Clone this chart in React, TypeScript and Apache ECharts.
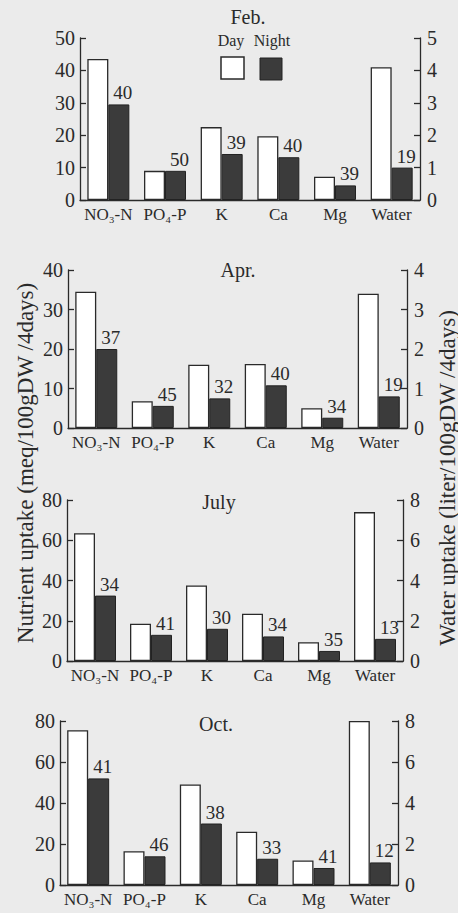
import React, { useEffect, useRef } from "react";
import * as echarts from "echarts";

// ---- data ----
const categories = ["NO₃-N", "PO₄-P", "K", "Ca", "Mg", "Water"];
const monthTitles = ["Feb.", "Apr.", "July", "Oct."];

// nutrient uptake (meq/100gDW/4days): NO3-N, PO4-P, K, Ca, Mg
const febDay = [43.5, 9, 22.5, 19.7, 7.2];
const febNight = [29.5, 9, 14.2, 13.2, 4.5];
const aprDay = [34.5, 6.8, 16, 16.2, 5];
const aprNight = [20, 5.6, 7.5, 10.8, 2.6];
const julDay = [63.5, 18.5, 37.5, 23.5, 9.3];
const julNight = [32.5, 13, 16, 12.2, 5];
const octDay = [75.5, 16.5, 49, 26, 12];
const octNight = [52, 14, 30, 12.8, 8.3];

// water uptake (liter/100gDW/4days): [day, night]
const febWater = [4.1, 1.0];
const aprWater = [3.4, 0.8];
const julWater = [7.4, 1.1];
const octWater = [8.0, 1.1];

// night share (%) printed above the night bars (6 categories)
const febPct = [40, 50, 39, 40, 39, 19];
const aprPct = [37, 45, 32, 40, 34, 19];
const julPct = [34, 41, 30, 34, 35, 13];
const octPct = [41, 46, 38, 33, 41, 12];

// axis ranges
const leftMax = [50, 40, 80, 80];
const leftInterval = [10, 10, 20, 20];
const rightMax = [5, 4, 8, 8];
const rightInterval = [1, 1, 2, 2];

const FONT = "Liberation Serif";
const INK = "#2a2a2a";
const DARK = "#3b3b3b";
const BG = "#ebebeb";

export default function App() {
  const ref = useRef<HTMLDivElement>(null);

  useEffect(() => {
    if (!ref.current) return;
    const chart = echarts.init(ref.current, null, { renderer: "svg" });

    const grids = [
      { left: 80, right: 38, top: 38, height: 162 },
      { left: 68, right: 51, top: 270, height: 158 },
      { left: 67, right: 55, top: 500, height: 161 },
      { left: 60, right: 60, top: 721, height: 164 },
    ];
    const titlePos = [
      [248, 17],
      [238, 270],
      [219, 502],
      [216, 724],
    ];
    const dayN = [febDay, aprDay, julDay, octDay];
    const nightN = [febNight, aprNight, julNight, octNight];
    const water = [febWater, aprWater, julWater, octWater];
    const pct = [febPct, aprPct, julPct, octPct];

    const serif = (size: number) => ({ fontFamily: FONT, fontSize: size, color: INK });

    const xAxis: any[] = [];
    const yAxis: any[] = [];
    const series: any[] = [];

    for (let i = 0; i < 4; i++) {
      xAxis.push({
        type: "category",
        gridIndex: i,
        data: categories,
        axisLine: { lineStyle: { color: INK, width: 1.3 } },
        axisTick: { show: false },
        axisLabel: { interval: 0, margin: 6, ...serif(17) },
      });
      const yCommon = {
        type: "value",
        gridIndex: i,
        min: 0,
        splitLine: { show: false },
        axisLine: { show: true, lineStyle: { color: INK, width: 1.3 } },
        axisTick: { show: true, inside: true, length: 6, lineStyle: { color: INK, width: 1.3 } },
      };
      yAxis.push({
        ...yCommon,
        position: "left",
        max: leftMax[i],
        interval: leftInterval[i],
        axisLabel: { margin: 5, ...serif(20) },
      });
      yAxis.push({
        ...yCommon,
        position: "right",
        max: rightMax[i],
        interval: rightInterval[i],
        axisLabel: { margin: 7, ...serif(20) },
      });

      const dash = ["-", "-", "-", "-", "-"];
      const labelCfg = {
        show: true,
        position: "top",
        distance: 2,
        offset: [4, 0],
        ...serif(19),
        formatter: (p: any) => String(pct[i][p.dataIndex]),
      };
      const dayStyle = { color: "#ffffff", borderColor: INK, borderWidth: 1.3 };
      const nightStyle = { color: DARK, borderColor: "#222", borderWidth: 1 };

      series.push({
        type: "bar",
        xAxisIndex: i,
        yAxisIndex: 2 * i,
        stack: "day" + i,
        barWidth: 21,
        barGap: "0%",
        data: [...dayN[i], "-"],
        itemStyle: dayStyle,
      });
      series.push({
        type: "bar",
        xAxisIndex: i,
        yAxisIndex: 2 * i,
        stack: "night" + i,
        barWidth: 21,
        barGap: "0%",
        data: [...nightN[i], "-"],
        itemStyle: nightStyle,
        label: labelCfg,
      });
      series.push({
        type: "bar",
        xAxisIndex: i,
        yAxisIndex: 2 * i + 1,
        stack: "day" + i,
        barWidth: 21,
        barGap: "0%",
        data: [...dash, water[i][0]],
        itemStyle: dayStyle,
      });
      series.push({
        type: "bar",
        xAxisIndex: i,
        yAxisIndex: 2 * i + 1,
        stack: "night" + i,
        barWidth: 21,
        barGap: "0%",
        data: [...dash, water[i][1]],
        itemStyle: nightStyle,
        label: labelCfg,
      });
    }

    const txt = (text: string, x: number, y: number, size: number, rotation = 0) => ({
      type: "text",
      x,
      y,
      rotation,
      style: {
        text,
        fill: INK,
        fontFamily: FONT,
        fontSize: size,
        textAlign: "center",
        textVerticalAlign: "middle",
      },
    });

    const graphic: any[] = [];
    monthTitles.forEach((t, i) => {
      graphic.push(txt(t, titlePos[i][0], titlePos[i][1], 20));
    });
    // legend (Feb. panel)
    graphic.push(
      txt("Day", 231, 40, 16),
      txt("Night", 272, 40, 16),
      {
        type: "rect",
        shape: { x: 221, y: 57, width: 23, height: 22 },
        style: { fill: "#ffffff", stroke: INK, lineWidth: 1.5 },
      },
      {
        type: "rect",
        shape: { x: 260, y: 58, width: 22, height: 22 },
        style: { fill: DARK, stroke: "#222", lineWidth: 1 },
      },
      txt("Nutrient uptake (meq/100gDW /4days)", 25, 463, 23, Math.PI / 2),
      txt("Water uptake (liter/100gDW /4days)", 447, 478, 23, Math.PI / 2)
    );

    chart.setOption({
      animation: false,
      backgroundColor: BG,
      textStyle: { fontFamily: FONT },
      grid: grids,
      xAxis,
      yAxis,
      series,
      graphic,
    });

    return () => chart.dispose();
  }, []);

  return (
    <div
      ref={ref}
      style={{ position: "absolute", left: 0, top: 0, width: 458, height: 913, background: BG }}
    />
  );
}
